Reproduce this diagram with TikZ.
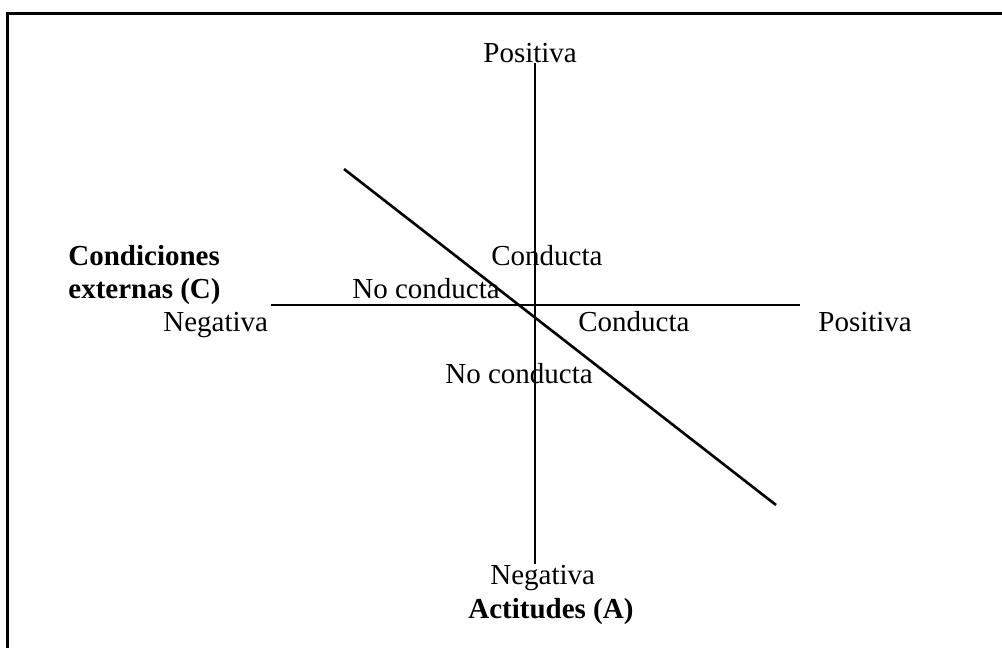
\documentclass[tikz,border=0pt]{standalone}
\usepackage{fontspec}
\setmainfont{Liberation Serif}
\usetikzlibrary{positioning}
\tikzset{lbl/.style={inner sep=0pt, anchor=base west, font=\fontsize{14.5}{17}\selectfont}}
\tikzstyle{axis}=[line width=1pt]

\begin{document}
\begin{tikzpicture}[x=0.5pt, y=-0.5pt]
\useasboundingbox (0,0) rectangle (1002,648);
\clip (0,0) rectangle (1002,648);
\draw[line width=1.4pt] (7.5,13.5) rectangle (1020,670);
% ejes
\coordinate (Atop) at (535,63);
\coordinate (Abot) at (535,564);
\coordinate (Cleft) at (271,304.5);
\coordinate (Cright) at (800,304.5);
\coordinate (Dtop) at (344,169);
\coordinate (Dbot) at (776,505);
\draw[axis] (Atop) -- (Abot);
\draw[axis] (Cleft) -- (Cright);
\draw[line width=1.3pt] (Dtop) -- (Dbot);

\node[lbl] (Apos) at (483,62) {Positiva};
\node[lbl] (Aneg) at (490,584) {Negativa};
\node[lbl] (Atit) at (468,618) {\bfseries Actitudes (A)};
\node[lbl] (Ctit1) at (68,265) {\bfseries Condiciones};
\node[lbl] (Ctit2) at (68,298) {\bfseries externas (C)};
\node[lbl] (Cneg) at (163,331) {Negativa};
\node[lbl] (Cpos) at (818,331) {Positiva};
\node[lbl] (Cond1) at (491,265) {Conducta};
\node[lbl] (NoCond1) at (352,298) {No conducta};
\node[lbl] (Cond2) at (578,331) {Conducta};
\node[lbl] (NoCond2) at (445,383) {No conducta};
\end{tikzpicture}
\end{document}
